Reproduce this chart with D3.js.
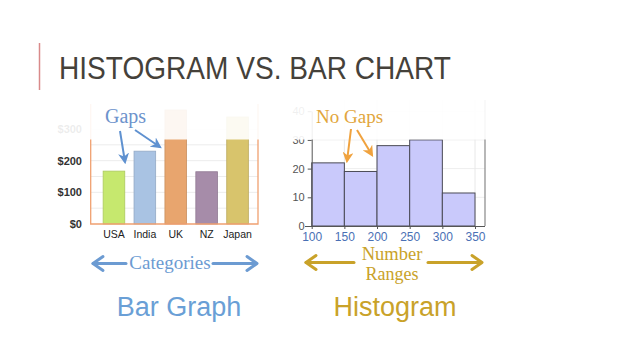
<!DOCTYPE html>
<html>
<head>
<meta charset="utf-8">
<script src="https://cdn.jsdelivr.net/npm/d3@7"></script>
<style>
  html, body { margin: 0; padding: 0; background: #fff; }
  svg { display: block; }
</style>
</head>
<body>
<div id="chart"></div>
<script>
// bar chart data
const barCats = ['USA', 'India', 'UK', 'NZ', 'Japan']
const barVals = [167, 230, 360, 165, 338]
const barTicks = [0, 100, 200, 300]
const barGrid = [50, 100, 150, 200, 250, 300]

// histogram data
const histEdges = [100, 150, 200, 250, 300, 350]
const histCounts = [22, 19, 28, 30, 11.5]
const histYTicks = [0, 10, 20, 30, 40]

const barColors = ['#c6e86e', '#a9c3e3', '#e8a56e', '#a68ca9', '#d8c46c']

const W = 638, H = 359
const svg = d3.select('#chart').append('svg')
  .attr('width', W).attr('height', H)

const defs = svg.append('defs')
function arrowMarker (id, color, size) {
  defs.append('marker')
    .attr('id', id)
    .attr('viewBox', '0 0 10 10')
    .attr('refX', 8).attr('refY', 5)
    .attr('markerWidth', size).attr('markerHeight', size)
    .attr('markerUnits', 'userSpaceOnUse')
    .attr('orient', 'auto')
    .append('path')
    .attr('d', 'M0,0 L10,5 L0,10 L3,5 Z')
    .attr('fill', color)
}
arrowMarker('ah-blue', '#5f91d0', 11)
arrowMarker('ah-orange', '#f0a23e', 11)

// title
svg.append('line')
  .attr('x1', 39.5).attr('x2', 39.5).attr('y1', 43).attr('y2', 90)
  .attr('stroke', '#d98a8a').attr('stroke-width', 1.5)

svg.append('text')
  .attr('x', 59).attr('y', 78.5)
  .attr('font-family', 'Liberation Sans, Arial, sans-serif')
  .attr('font-size', 32)
  .attr('textLength', 392)
  .attr('lengthAdjust', 'spacingAndGlyphs')
  .attr('fill', '#45413a')
  .text('HISTOGRAM VS. BAR CHART')

// ---------- bar chart ----------
const bx = d3.scaleBand().domain(barCats).range([98.5, 253])
  .paddingInner(0.3).paddingOuter(0.15)
const by = d3.scaleLinear().domain([0, 300]).range([224, 129])

const gb = svg.append('g')

gb.selectAll('.bgrid').data(barGrid).join('line')
  .attr('x1', 91).attr('x2', 258)
  .attr('y1', d => by(d)).attr('y2', d => by(d))
  .attr('stroke', '#ececec').attr('stroke-width', 1)

gb.selectAll('.bar').data(barVals).join('rect')
  .attr('x', (d, i) => bx(barCats[i]))
  .attr('y', d => by(d))
  .attr('width', bx.bandwidth())
  .attr('height', d => by(0) - by(d))
  .attr('fill', (d, i) => barColors[i])
  .attr('stroke', (d, i) => d3.color(barColors[i]).darker(0.4))
  .attr('stroke-width', 0.8)

// orange frame
gb.append('path')
  .attr('d', `M90.7,${by(0) - 120} V${by(0)} H258 V${by(0) - 120}`)
  .attr('fill', 'none').attr('stroke', '#f0a070').attr('stroke-width', 1.3)

gb.append('g')
  .attr('transform', 'translate(85,0)')
  .call(d3.axisLeft(by).tickValues(barTicks).tickSize(0).tickFormat(d => '$' + d))
  .call(ax => ax.select('.domain').remove())
  .selectAll('text')
  .attr('font-family', 'Liberation Sans, Arial, sans-serif')
  .attr('font-size', 11).attr('font-weight', 'bold').attr('fill', '#333')

gb.append('g')
  .attr('transform', `translate(0,${by(0) + 4})`)
  .call(d3.axisBottom(bx).tickSize(0))
  .call(ax => ax.select('.domain').remove())
  .selectAll('text')
  .attr('font-family', 'Liberation Sans, Arial, sans-serif')
  .attr('font-size', 10.5).attr('fill', '#222')

// fade the top strip
gb.append('rect')
  .attr('x', 55).attr('y', 100).attr('width', 210).attr('height', 39.5)
  .attr('fill', '#fff').attr('opacity', 0.91)

// ---------- histogram ----------
const hx = d3.scaleLinear().domain([100, 350]).range([311.7, 475])
const hy = d3.scaleLinear().domain([0, 40]).range([226, 111.2])
const bins = histCounts.map((c, i) => ({ x0: histEdges[i], x1: histEdges[i + 1], c }))

const gh = svg.append('g')

gh.selectAll('.hgridy').data(histYTicks.slice(1)).join('line')
  .attr('x1', hx(100)).attr('x2', 485)
  .attr('y1', d => hy(d)).attr('y2', d => hy(d))
  .attr('stroke', '#eeeeee')
gh.selectAll('.hgridx').data(histEdges.slice(1)).join('line')
  .attr('x1', d => hx(d)).attr('x2', d => hx(d))
  .attr('y1', 100).attr('y2', hy(0))
  .attr('stroke', '#e8e8e8')

gh.selectAll('.hbar').data(bins).join('rect')
  .attr('x', d => hx(d.x0))
  .attr('y', d => hy(d.c))
  .attr('width', d => hx(d.x1) - hx(d.x0))
  .attr('height', d => hy(0) - hy(d.c))
  .attr('fill', '#c9c9fb')
  .attr('stroke', '#4a4a55').attr('stroke-width', 1)

gh.append('line')
  .attr('x1', 485).attr('x2', 485).attr('y1', 100).attr('y2', hy(0))
  .attr('stroke', '#888').attr('stroke-width', 1.2)

gh.append('g')
  .attr('transform', `translate(${hx(100)},0)`)
  .call(d3.axisLeft(hy).tickValues(histYTicks).tickSize(4).tickSizeOuter(0))
  .call(ax => ax.select('.domain').attr('stroke', '#555'))
  .call(ax => ax.selectAll('line').attr('stroke', '#555'))
  .selectAll('text')
  .attr('font-family', 'Liberation Sans, Arial, sans-serif')
  .attr('font-size', 11).attr('fill', '#555')

gh.append('g')
  .attr('transform', `translate(0,${hy(0)})`)
  .call(d3.axisBottom(hx).tickValues(histEdges).tickSize(3).tickSizeOuter(0))
  .call(ax => ax.select('.domain').attr('stroke', '#555').attr('d', `M305,0.5H485`))
  .call(ax => ax.selectAll('line').attr('stroke', '#555'))
  .selectAll('text')
  .attr('font-family', 'Liberation Sans, Arial, sans-serif')
  .attr('font-size', 12).attr('fill', '#4a70b5').attr('dy', '0.75em')

gh.append('rect')
  .attr('x', 288).attr('y', 100).attr('width', 205).attr('height', 39.5)
  .attr('fill', '#fff').attr('opacity', 0.91)

// ---------- annotations ----------
const serif = 'Liberation Serif, Times New Roman, serif'

svg.append('text')
  .attr('x', 105).attr('y', 123)
  .attr('font-family', serif).attr('font-size', 20).attr('fill', '#6d93cc')
  .text('Gaps')

function arrow (x1, y1, x2, y2, color, marker, w) {
  svg.append('line')
    .attr('x1', x1).attr('y1', y1).attr('x2', x2).attr('y2', y2)
    .attr('stroke', color).attr('stroke-width', w)
    .attr('marker-end', `url(#${marker})`)
}
arrow(120, 131, 125, 162, '#5f91d0', 'ah-blue', 2)
arrow(135, 130, 160, 147, '#5f91d0', 'ah-blue', 2)

svg.append('text')
  .attr('x', 316).attr('y', 123)
  .attr('font-family', serif).attr('font-size', 19).attr('fill', '#e2a63c')
  .text('No Gaps')
arrow(351, 129, 347, 161, '#f0a23e', 'ah-orange', 2)
arrow(357, 130, 372, 155, '#f0a23e', 'ah-orange', 2)

// bottom labels with double arrows
function chevron (x, y, dir, color) {
  svg.append('path')
    .attr('d', `M${x - dir * 10},${y - 7} L${x},${y} L${x - dir * 10},${y + 7}`)
    .attr('fill', 'none').attr('stroke', color).attr('stroke-width', 3)
    .attr('stroke-linecap', 'round').attr('stroke-linejoin', 'round')
}
function hline (x1, x2, y, color) {
  svg.append('line').attr('x1', x1).attr('x2', x2).attr('y1', y).attr('y2', y)
    .attr('stroke', color).attr('stroke-width', 3).attr('stroke-linecap', 'round')
}

const blue = '#6c9bd2'
hline(93, 126, 263.5, blue); chevron(93, 263.5, -1, blue)
hline(213, 256, 263.5, blue); chevron(257, 263.5, 1, blue)
svg.append('text')
  .attr('x', 170).attr('y', 269)
  .attr('text-anchor', 'middle')
  .attr('font-family', serif).attr('font-size', 19).attr('fill', blue)
  .text('Categories')

const gold = '#c9a229'
hline(306, 354, 262.5, gold); chevron(306, 262.5, -1, gold)
hline(428, 481, 262.5, gold); chevron(482, 262.5, 1, gold)
svg.append('text')
  .attr('x', 392).attr('y', 260)
  .attr('text-anchor', 'middle')
  .attr('font-family', serif).attr('font-size', 18.5).attr('fill', gold)
  .text('Number')
svg.append('text')
  .attr('x', 392).attr('y', 279.5)
  .attr('text-anchor', 'middle')
  .attr('font-family', serif).attr('font-size', 18).attr('fill', gold)
  .text('Ranges')

svg.append('text')
  .attr('x', 179).attr('y', 316)
  .attr('text-anchor', 'middle')
  .attr('font-family', 'Liberation Sans, Arial, sans-serif')
  .attr('font-size', 27).attr('fill', '#6a9fd6')
  .text('Bar Graph')

svg.append('text')
  .attr('x', 395).attr('y', 316)
  .attr('text-anchor', 'middle')
  .attr('font-family', 'Liberation Sans, Arial, sans-serif')
  .attr('font-size', 27).attr('fill', '#c9a229')
  .text('Histogram')
</script>
</body>
</html>
